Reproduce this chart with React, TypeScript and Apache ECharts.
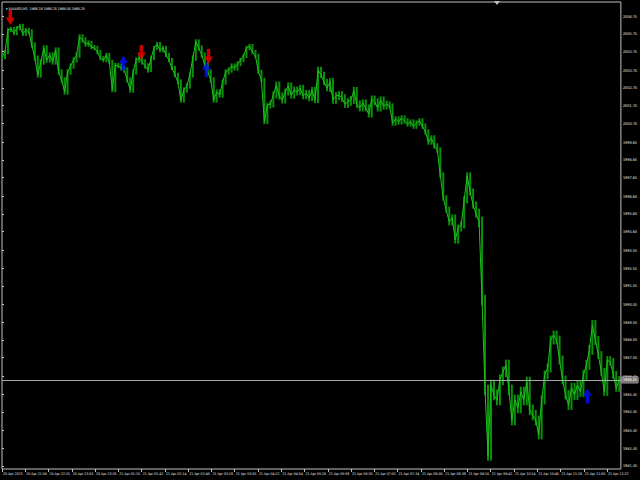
import React, { useEffect, useRef } from "react";
import * as echarts from "echarts";

const titleText = "XAUUSD,M1  1986.18 1986.25 1986.00 1986.25";

const timeLabels = [
  "20 Apr 2023", "20 Apr 21:59", "20 Apr 22:31", "20 Apr 23:03", "20 Apr 23:35",
  "21 Apr 01:10", "21 Apr 01:42", "21 Apr 02:14", "21 Apr 02:46", "21 Apr 03:18",
  "21 Apr 03:50", "21 Apr 04:22", "21 Apr 04:54", "21 Apr 05:26", "21 Apr 05:58",
  "21 Apr 06:30", "21 Apr 07:02", "21 Apr 07:34", "21 Apr 08:06", "21 Apr 08:38",
  "21 Apr 09:10", "21 Apr 09:42", "21 Apr 10:14", "21 Apr 10:46", "21 Apr 11:18",
  "21 Apr 11:50", "21 Apr 12:22",
];
const BARS_PER_LABEL = 32;

const priceTicks = [
  2006.75, 2005.75, 2004.75, 2003.7, 2002.7, 2001.7, 2000.7, 1999.65, 1998.65,
  1997.65, 1996.6, 1995.6, 1994.6, 1993.55, 1992.55, 1991.55, 1990.5, 1989.5,
  1988.5, 1987.5, 1986.45, 1985.45, 1984.45, 1983.4, 1982.4, 1981.4,
];

// close prices sampled about every 4.1 one-minute bars
const closePrices = [
  2004.44, 2004.72, 2005.96, 2006.02, 2005.79, 2006.07, 2006.19, 2005.74, 2005.96, 2005.85,
  2005.12, 2004.38, 2003.43, 2004.16, 2004.95, 2004.27, 2004.55, 2004.16, 2004.83, 2003.6,
  2003.15, 2002.47, 2003.6, 2003.93, 2004.27, 2004.55, 2005.57, 2005.4, 2005.17, 2005.23,
  2005.0, 2004.95, 2004.72, 2004.38, 2004.27, 2004.55, 2004.16, 2002.58, 2003.99, 2003.93,
  2003.82, 2003.71, 2003.15, 2002.58, 2003.6, 2004.27, 2004.38, 2004.16, 2003.93, 2003.71,
  2004.38, 2004.95, 2005.17, 2004.83, 2004.95, 2004.55, 2004.27, 2003.82, 2003.43, 2003.03,
  2002.02, 2002.58, 2002.81, 2003.43, 2004.38, 2005.29, 2004.95, 2004.55, 2003.99, 2003.6,
  2003.15, 2002.02, 2002.47, 2002.3, 2003.03, 2003.6, 2003.71, 2003.93, 2003.82, 2004.05,
  2004.27, 2004.5, 2004.95, 2005.06, 2004.72, 2004.5, 2003.6, 2003.15, 2000.78, 2001.74,
  2001.79, 2002.3, 2002.86, 2002.24, 2002.02, 2002.47, 2002.81, 2002.3, 2002.58, 2002.47,
  2002.69, 2002.24, 2002.41, 2002.13, 2002.58, 2002.02, 2003.71, 2003.43, 2003.03, 2002.69,
  2003.03, 2002.02, 2002.24, 2002.3, 2002.13, 2001.79, 2001.91, 2002.02, 2002.53, 2001.79,
  2001.57, 2001.85, 2001.57, 2001.23, 2002.07, 2001.91, 2001.57, 2002.02, 2001.68, 2001.79,
  2001.68, 2000.72, 2000.95, 2000.78, 2001.0, 2000.84, 2000.67, 2000.78, 2000.55, 2000.72,
  2000.84, 2000.55, 2000.22, 1999.65, 1999.88, 1999.43, 1999.2, 1997.79, 1996.5, 1995.82,
  1995.15, 1995.37, 1994.13, 1994.81, 1994.98, 1996.39, 1997.74, 1996.84, 1996.1, 1995.6,
  1995.15, 1990.75, 1985.68, 1982.0, 1985.96, 1985.4, 1985.12, 1986.25, 1986.7, 1987.09,
  1985.68, 1983.99, 1985.12, 1984.67, 1985.57, 1985.12, 1986.13, 1984.56, 1984.27, 1983.99,
  1983.15, 1985.12, 1986.53, 1986.92, 1988.5, 1988.78, 1988.5, 1987.37, 1986.25, 1985.4,
  1984.84, 1985.8, 1985.4, 1985.96, 1985.57, 1986.53, 1987.09, 1987.94, 1989.34, 1988.5,
  1987.65, 1986.7, 1985.57, 1987.37, 1987.26, 1986.53, 1985.8, 1986.25,
];
const BARS_PER_SAMPLE = 4.1;

// half height of the bar ranges, read per group of 10 samples
const barHalfRange = [
  0.12, 0.15, 0.15, 0.12, 0.15, 0.12, 0.15, 0.15, 0.12, 0.2, 0.18,
  0.22, 0.2, 0.15, 0.15, 0.2, 0.3, 0.3, 0.25, 0.28, 0.22,
];
const SAMPLES_PER_GROUP = 10;

// signal arrows: [bar index, price]
const buyArrows = [
  [167, 2004.1],
  [281, 2003.73],
  [805, 1985.34],
];
const sellArrows = [
  [11.4, 2006.67],
  [191.5, 2004.69],
  [284, 2004.47],
];

const bidPrice = 1986.25;

const X_MAX = 851;
const Y_MIN = 1981.23;
const Y_MAX = 2007.54;

const FONT = "'Liberation Sans Narrow', 'DejaVu Sans Condensed', 'Liberation Sans', sans-serif";
const AXIS_COLOR = "#c0c0c0";
const TEXT_COLOR = "#e8e8e8";

const UP_ARROW = "path://M4,0 L8,7.5 L5.5,7.5 L5.5,15 L2.5,15 L2.5,7.5 L0,7.5 Z";
const DOWN_ARROW = "path://M2.5,0 L5.5,0 L5.5,7.5 L8,7.5 L4,15 L0,7.5 L2.5,7.5 Z";

export default function App() {
  const ref = useRef<HTMLDivElement>(null);

  useEffect(() => {
    if (!ref.current) return;
    const chart = echarts.init(ref.current, undefined, { renderer: "svg" });
    const lineData = closePrices.map((p, i) => [i * BARS_PER_SAMPLE, p]);
    const rangeData = closePrices.map((p, i) => {
      const prev = i > 0 ? closePrices[i - 1] : p;
      const h = barHalfRange[Math.floor(i / SAMPLES_PER_GROUP)] ?? 0.15;
      return [i * BARS_PER_SAMPLE, Math.min(prev, p) - h, Math.max(prev, p) + h];
    });
    const labelBars = timeLabels.map((_, i) => i * BARS_PER_LABEL);

    chart.setOption({
      animation: false,
      backgroundColor: "#000000",
      title: {
        text: "\u25BE " + titleText,
        left: 1,
        top: 2,
        textStyle: { color: "#ffffff", fontSize: 3.5, fontWeight: "normal", fontFamily: FONT },
      },
      grid: {
        left: 0,
        right: 18,
        top: 2,
        bottom: 11,
        show: true,
        borderColor: AXIS_COLOR,
        borderWidth: 1,
      },
      xAxis: {
        type: "value",
        min: 0,
        max: X_MAX,
        axisLine: { show: false },
        splitLine: { show: false },
        axisTick: {
          show: true,
          customValues: labelBars,
          length: 3,
          lineStyle: { color: AXIS_COLOR, width: 1 },
        },
        axisLabel: {
          customValues: labelBars,
          formatter: (v: number) => timeLabels[Math.round(v / BARS_PER_LABEL)] ?? "",
          color: TEXT_COLOR,
          fontSize: 3.5,
          fontFamily: FONT,
          align: "left",
          margin: 3,
          padding: [0, 0, 0, 1],
          hideOverlap: false,
        },
      },
      yAxis: {
        type: "value",
        position: "right",
        min: Y_MIN,
        max: Y_MAX,
        scale: true,
        axisLine: { show: false },
        splitLine: { show: false },
        axisTick: {
          show: true,
          customValues: priceTicks,
          length: 2,
          lineStyle: { color: AXIS_COLOR, width: 1 },
        },
        axisLabel: {
          customValues: priceTicks,
          formatter: (v: number) => v.toFixed(2),
          color: TEXT_COLOR,
          fontSize: 3.8,
          fontFamily: FONT,
          margin: 2,
        },
      },
      graphic: [
        {
          type: "polygon",
          shape: { points: [[494, 1], [500, 1], [497, 5]] },
          style: { fill: AXIS_COLOR },
        },
      ],
      series: [
        {
          type: "custom",
          data: rangeData,
          clip: true,
          z: 1,
          renderItem: (_params: any, api: any) => {
            const x = api.value(0);
            const p1 = api.coord([x, api.value(2)]);
            const p2 = api.coord([x, api.value(1)]);
            return {
              type: "line",
              shape: { x1: p1[0], y1: p1[1], x2: p2[0], y2: p2[1] },
              style: { stroke: "#0a8f0a", lineWidth: 2 },
            };
          },
        },
        {
          type: "line",
          data: lineData,
          showSymbol: false,
          symbol: "none",
          clip: true,
          lineStyle: { color: "#1fc01f", width: 1 },
          z: 2,
          markLine: {
            silent: true,
            symbol: "none",
            lineStyle: { color: "#a8a8a8", width: 1, type: "solid" },
            label: {
              show: true,
              position: "end",
              distance: 1,
              formatter: () => bidPrice.toFixed(2),
              color: "#ffffff",
              backgroundColor: "#7a7a7a",
              borderColor: "#c8c8c8",
              borderWidth: 0.5,
              padding: [1, 1, 1, 1],
              fontSize: 3.8,
              fontFamily: FONT,
            },
            data: [{ yAxis: bidPrice }],
          },
        },
        {
          type: "scatter",
          data: buyArrows,
          symbol: UP_ARROW,
          symbolSize: [9, 15],
          itemStyle: { color: "#0010ff" },
          z: 5,
        },
        {
          type: "scatter",
          data: sellArrows,
          symbol: DOWN_ARROW,
          symbolSize: [9, 15],
          itemStyle: { color: "#ff0000" },
          z: 5,
        },
      ],
    });

    return () => chart.dispose();
  }, []);

  return (
    <div
      ref={ref}
      style={{ position: "fixed", left: 0, top: 0, width: 640, height: 480 }}
    />
  );
}
